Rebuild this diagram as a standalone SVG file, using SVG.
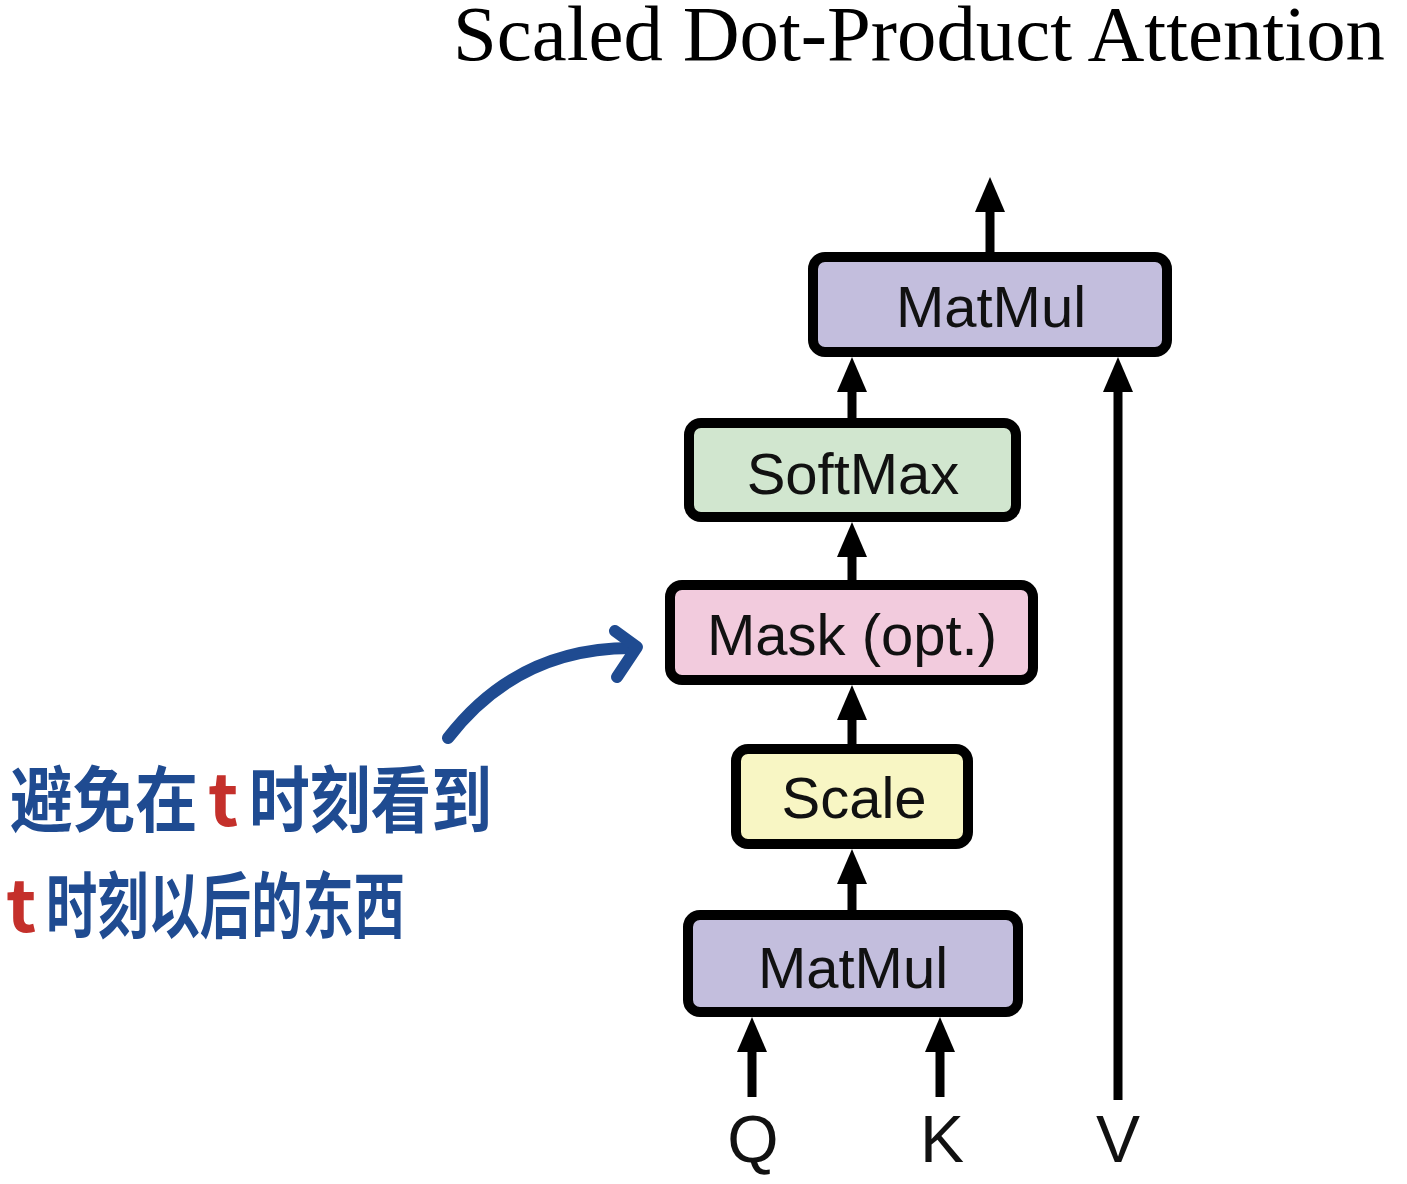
<svg xmlns="http://www.w3.org/2000/svg" width="1407" height="1184" viewBox="0 0 1407 1184">
<style>
.box{stroke:#000;stroke-width:10}
.lbl{font-family:"Liberation Sans",Arial,sans-serif;font-size:58px;fill:#111;text-anchor:middle}
.io{font-family:"Liberation Sans",Arial,sans-serif;font-size:66px;fill:#111;text-anchor:middle}
.conn{stroke:#000;stroke-width:9;fill:none}
.hw{font-family:"Noto Sans CJK SC","Noto Sans",sans-serif;font-weight:bold;font-size:72px;fill:#1f4b91}
.red{fill:#c4302b}
</style>
<defs>
<marker id="ah" markerUnits="userSpaceOnUse" markerWidth="40" markerHeight="34" viewBox="0 -17 36 34" refX="0" refY="0" orient="auto">
<path d="M0,-15 L35,0 L0,15 z" fill="#000"/>
</marker>
</defs>
<rect width="1407" height="1184" fill="#fff"/>
<text x="919" y="60" font-family="Liberation Serif,'Times New Roman',serif" font-size="78" text-anchor="middle" fill="#000" textLength="932" lengthAdjust="spacingAndGlyphs">Scaled Dot-Product Attention</text>

<g id="connectors">
<line class="conn" x1="990" y1="252" x2="990" y2="212" marker-end="url(#ah)"/>
<line class="conn" x1="852" y1="418" x2="852" y2="392" marker-end="url(#ah)"/>
<line class="conn" x1="852" y1="580" x2="852" y2="557" marker-end="url(#ah)"/>
<line class="conn" x1="852" y1="744" x2="852" y2="720" marker-end="url(#ah)"/>
<line class="conn" x1="852" y1="910" x2="852" y2="884" marker-end="url(#ah)"/>
<line class="conn" x1="752" y1="1097" x2="752" y2="1052" marker-end="url(#ah)"/>
<line class="conn" x1="940" y1="1097" x2="940" y2="1052" marker-end="url(#ah)"/>
<line class="conn" x1="1118" y1="1100" x2="1118" y2="392" marker-end="url(#ah)"/>
<g id="annotation-arrow" stroke="#1f4b91" stroke-width="12" fill="none" stroke-linecap="round" stroke-linejoin="round">
<path d="M448 738 Q518 647 634 648"/>
<path d="M615 631 L637 647 L617 677"/>
</g>
</g>

<g id="matmul-top">
<rect class="box" x="813" y="257" width="354" height="95" rx="12" fill="#c3bedd"/>
<text class="lbl" x="991" y="327">MatMul</text>
</g>
<g id="softmax">
<rect class="box" x="689" y="423" width="327" height="94" rx="12" fill="#d1e6cf"/>
<text class="lbl" x="853" y="494">SoftMax</text>
</g>
<g id="mask">
<rect class="box" x="670" y="585" width="363" height="95" rx="12" fill="#f2cbdd"/>
<text class="lbl" x="852" y="655">Mask (opt.)</text>
</g>
<g id="scale">
<rect class="box" x="736" y="749" width="232" height="95" rx="12" fill="#f8f6c4"/>
<text class="lbl" x="854" y="818">Scale</text>
</g>
<g id="matmul-bottom">
<rect class="box" x="688" y="915" width="330" height="97" rx="12" fill="#c3bedd"/>
<text class="lbl" x="853" y="988">MatMul</text>
</g>
<g id="inputs">
<text class="io" x="753" y="1162">Q</text>
<text class="io" x="942" y="1162">K</text>
<text class="io" x="1118" y="1162">V</text>
</g>
<g id="annotation">
<text class="hw" x="10" y="826" textLength="188" lengthAdjust="spacingAndGlyphs">避免在</text>
<text class="hw red" x="208" y="826">t</text>
<text class="hw" x="249" y="826" textLength="243" lengthAdjust="spacingAndGlyphs">时刻看到</text>
<text class="hw red" x="6" y="932">t</text>
<text class="hw" x="46" y="932" textLength="359" lengthAdjust="spacingAndGlyphs">时刻以后的东西</text>
</g>
</svg>
